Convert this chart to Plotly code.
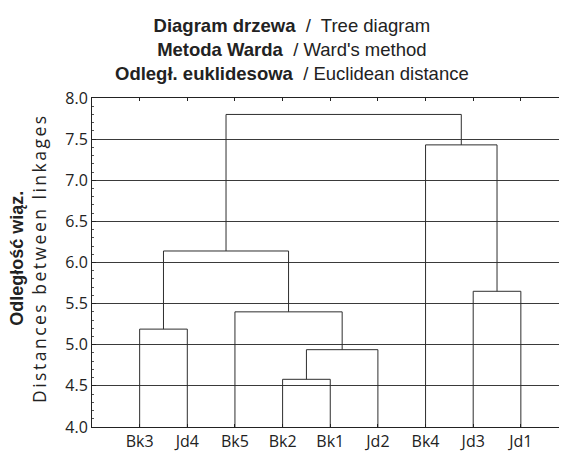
import plotly.graph_objects as go

# ---- data ----
leaves = ["Bk3", "Jd4", "Bk5", "Bk2", "Bk1", "Jd2", "Bk4", "Jd3", "Jd1"]
# merges: children are leaf names or earlier merge ids ("m0", "m1", ...)
merge_left = ["Bk2", "m0", "Bk3", "Bk5", "Jd3", "m2", "Bk4", "m5"]
merge_right = ["Bk1", "Jd2", "Jd4", "m1", "Jd1", "m3", "m4", "m6"]
merge_height = [4.58, 4.94, 5.19, 5.40, 5.65, 6.14, 7.43, 7.80]
y_ticks = [4.0, 4.5, 5.0, 5.5, 6.0, 6.5, 7.0, 7.5, 8.0]

# ---- build dendrogram segments ----
pos = {name: i + 1 for i, name in enumerate(leaves)}
hgt = {name: 4.0 for name in leaves}
xs, ys = [], []
for k, (a, b, h) in enumerate(zip(merge_left, merge_right, merge_height)):
    xa, xb = pos[a], pos[b]
    xs += [xa, xa, xb, xb, None]
    ys += [hgt[a], h, h, hgt[b], None]
    pos[f"m{k}"] = (xa + xb) / 2
    hgt[f"m{k}"] = h

# page body has an 8px margin, so the figure starts at (8, 8)
OFF = 8
W, H = 567 - OFF, 454 - OFF
L, R, T, B = 92 - OFF, 0, 98 - OFF, 27
pw = W - L - R
ph = H - T - B
step = 47.65
x_max = pw / step

fig = go.Figure()
fig.add_trace(go.Scatter(x=xs, y=ys, mode="lines",
                         line=dict(color="#2e2e2e", width=1),
                         hoverinfo="skip", showlegend=False))

fig.update_layout(
    width=W, height=H,
    margin=dict(l=L, r=R, t=T, b=B, autoexpand=False),
    paper_bgcolor="white", plot_bgcolor="white",
    font=dict(family="Open Sans", color="#222222", size=16),
    xaxis=dict(
        range=[0, x_max],
        tickvals=list(range(1, len(leaves) + 1)),
        ticktext=leaves,
        showgrid=False, zeroline=False, automargin=False,
        showline=True, linecolor="#222", linewidth=1,
        mirror="ticks", ticks="inside", ticklen=3, tickcolor="#222",
        tickfont=dict(family="Open Sans", size=16, color="#222"),
    ),
    yaxis=dict(
        range=[4.0, 8.0],
        tickvals=y_ticks,
        ticktext=[f"{v:.1f}" for v in y_ticks],
        showgrid=True, gridcolor="#3a3a3a", gridwidth=1,
        zeroline=False, automargin=False,
        showline=True, linecolor="#222", linewidth=1,
        ticks="inside", ticklen=4, tickcolor="#222",
        minor=dict(dtick=0.1, tick0=4.0, ticks="inside", ticklen=2,
                   tickcolor="#555", showgrid=False),
        tickfont=dict(family="Open Sans", size=16, color="#222"),
    ),
)

title_txt = (
    '<b>Diagram drzewa</b>  /  Tree diagram<br>'
    '<b>Metoda Warda</b>  / Ward\'s method<br>'
    '<b>Odległ. euklidesowa</b>  / Euclidean distance'
)
fig.add_annotation(
    text=title_txt, xref="paper", yref="paper",
    x=(292 - OFF - L) / pw, y=1 + (T - 5) / ph,
    xanchor="center", yanchor="top", showarrow=False,
    font=dict(family="Liberation Sans", size=18.5, color="#222"),
    align="center",
)

ytitle = ('<span style="font-family:Liberation Sans;font-size:18px"><b>Odległość wiąz.</b></span><br>'
          '<span style="letter-spacing:2.5px">Distances between linkages</span>')
fig.add_annotation(
    text=ytitle, xref="paper", yref="paper",
    x=(29 - OFF - L) / pw, y=1 - (258 - 98) / ph,
    xanchor="center", yanchor="middle", showarrow=False,
    textangle=-90,
    font=dict(family="Open Sans", size=17.5, color="#222"),
    align="center",
)

fig.write_html("out.html")
